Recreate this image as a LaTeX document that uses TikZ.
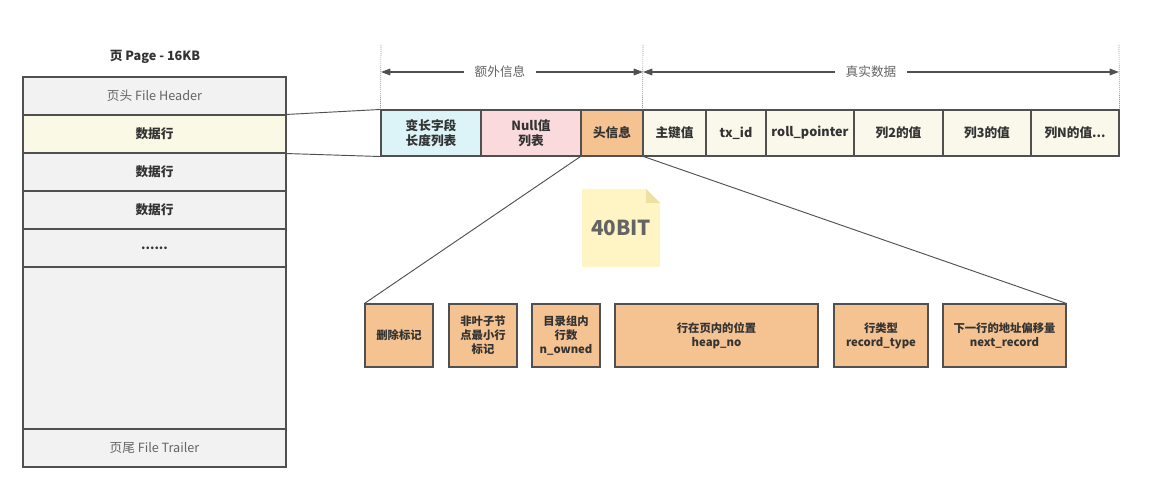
\documentclass[tikz,border=0pt]{standalone}
\usepackage{fontspec}
\setmainfont{Noto Sans CJK SC}
\usetikzlibrary{arrows.meta}
\definecolor{lineC}{RGB}{80,80,80}
\definecolor{txtC}{RGB}{51,51,51}
\definecolor{lblC}{RGB}{100,100,100}
\definecolor{pageC}{RGB}{242,242,242}
\definecolor{hlC}{RGB}{250,249,230}
\definecolor{cyanC}{RGB}{220,244,247}
\definecolor{pinkC}{RGB}{250,218,221}
\definecolor{orgC}{RGB}{245,194,145}
\definecolor{dataC}{RGB}{249,248,235}
\definecolor{noteC}{RGB}{255,244,195}
\definecolor{foldC}{RGB}{238,225,160}
\tikzset{
  box/.style={draw=lineC, line width=0.8pt, inner sep=0pt, align=center, text=txtC},
  sz/.style 2 args={minimum width=#1*0.75pt, minimum height=#2*0.75pt},
  pagebox/.style={box, fill=pageC},
  bigtxt/.style={font=\fontsize{9.5}{11.5}\selectfont\bfseries},
  smalltxt/.style={font=\fontsize{8.5}{10.5}\selectfont\bfseries},
  plaintxt/.style={font=\fontsize{9.5}{11.5}\selectfont, text=lblC},
  conn/.style={draw=lineC, line width=0.7pt},
  guide/.style={draw=lblC, line width=0.5pt, densely dotted},
  dimarrow/.style={draw=lineC, line width=0.8pt, {Triangle[length=7pt,width=5pt]}-{Triangle[length=7pt,width=5pt]}},
}
\begin{document}
\begin{tikzpicture}[x=0.75pt,y=-0.75pt]
\useasboundingbox (0,0) rectangle (1154,484);
% page
\node[bigtxt, text=txtC] (title) at (155,57) {页 Page - 16KB};
\node[pagebox, sz={263}{38}, plaintxt] (ph) at (154.5,96) {页头 File Header};
\node[box, fill=hlC, sz={263}{38}, bigtxt] (r1) at (154.5,134) {数据行};
\node[pagebox, sz={263}{38}, bigtxt] (r2) at (154.5,172) {数据行};
\node[pagebox, sz={263}{38}, bigtxt] (r3) at (154.5,210) {数据行};
\node[pagebox, sz={263}{38}, bigtxt] (r4) at (154.5,248) {......};
\node[pagebox, sz={263}{162}] (blank) at (154.5,348) {};
\node[pagebox, sz={263}{38}, plaintxt] (pt) at (154.5,448) {页尾 File Trailer};
% record
\node[box, fill=cyanC, sz={100}{46}, bigtxt] (c1) at (431,133) {变长字段\\长度列表};
\node[box, fill=pinkC, sz={100}{46}, bigtxt] (c2) at (531,133) {Null值\\列表};
\node[box, fill=orgC, sz={62}{46}, bigtxt] (c3) at (612,133) {头信息};
\node[box, fill=dataC, sz={63}{46}, bigtxt] (c4) at (674.5,133) {主键值};
\node[box, fill=dataC, sz={60}{46}, bigtxt] (c5) at (736,133) {tx\_id};
\node[box, fill=dataC, sz={88}{46}, bigtxt] (c6) at (810,133) {roll\_pointer};
\node[box, fill=dataC, sz={89}{46}, bigtxt] (c7) at (898.5,133) {列2的值};
\node[box, fill=dataC, sz={88}{46}, bigtxt] (c8) at (987,133) {列3的值};
\node[box, fill=dataC, sz={88}{46}, bigtxt] (c9) at (1075,133) {列N的值...};
% page row to record
\draw[conn] (r1.north east) -- (c1.north west);
\draw[conn] (r1.south east) -- (c1.south west);
% guides
\coordinate (g1) at (381,45);
\coordinate (g2) at (643,45);
\coordinate (g3) at (1119,45);
\draw[guide] (g1) -- (c1.north west);
\draw[guide] (g2) -- (c4.north west);
\draw[guide] (g3) -- (c9.north east);
\coordinate (a1) at (381,72);
\coordinate (a2) at (643,72);
\coordinate (a3) at (1119,72);
\draw[dimarrow] (a1) -- (a2);
\draw[dimarrow] (a2) -- (a3);
\node[plaintxt, fill=white, inner xsep=8pt, inner ysep=2pt] (l1) at (500,72) {额外信息};
\node[plaintxt, fill=white, inner xsep=8pt, inner ysep=2pt] (l2) at (871,72) {真实数据};
% note
\fill[noteC] (582,189) -- (646,189) -- (660,203) -- (660,267) -- (582,267) -- cycle;
\fill[foldC] (646,189) -- (646,203) -- (660,203) -- cycle;
\node[font=\fontsize{15.5}{18}\selectfont\bfseries, text=lblC] (n40) at (621,228) {40BIT};
% header bits
\node[box, fill=orgC, sz={68}{63}, smalltxt] (b1) at (399,335.5) {删除标记};
\node[box, fill=orgC, sz={68}{63}, smalltxt] (b2) at (483,335.5) {非叶子节\\点最小行\\标记};
\node[box, fill=orgC, sz={68}{63}, smalltxt] (b3) at (566,335.5) {目录组内\\行数\\n\_owned};
\node[box, fill=orgC, sz={203}{63}, smalltxt] (b4) at (716.5,335.5) {行在页内的位置\\heap\_no};
\node[box, fill=orgC, sz={94}{63}, smalltxt] (b5) at (881,335.5) {行类型\\record\_type};
\node[box, fill=orgC, sz={123}{63}, smalltxt] (b6) at (1004.5,335.5) {下一行的地址偏移量\\next\_record};
\draw[conn] (c3.south west) -- (b1.north west);
\draw[conn] (c3.south east) -- (b6.north east);
\end{tikzpicture}
\end{document}
